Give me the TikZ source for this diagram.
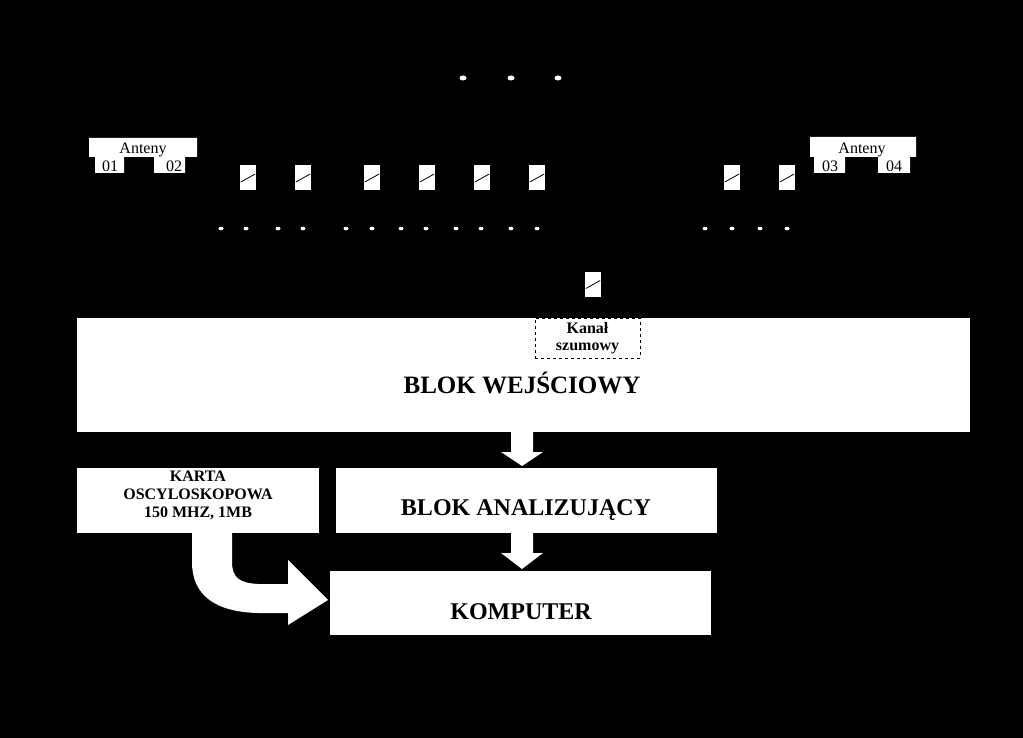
\documentclass[tikz,border=0pt]{standalone}
\usepackage{fontspec}
\setmainfont{Liberation Serif}
\begin{document}
\begin{tikzpicture}[x=1pt,y=-1pt,
  wbox/.style={fill=white,draw=none,inner sep=0pt,anchor=north west},
  res/.style={fill=white,minimum width=16pt,minimum height=25pt,inner sep=0pt},
  dotw/.style={fill=white,ellipse,minimum width=6pt,minimum height=4pt,inner sep=0pt},
  blk/.style={font=\bfseries\fontsize{25}{28}\selectfont},
  barrow/.style={fill=white}]
\fill[black] (0,0) rectangle (1023,738);
\useasboundingbox (0,0) rectangle (1023,738);
% top dots
\foreach \x [count=\i] in {463,511,558} \fill[white] (\x,78) ellipse (3.5 and 2.5);
% Antennas left
\fill[white] (89,138) rectangle (197,157) (95,157) rectangle (124,173) (154,157) rectangle (185,173);
\node (antL) at (143,150) {\fontsize{16}{18}\selectfont Anteny};
\node (a01) at (110,166) {\fontsize{16}{18}\selectfont 01};
\node (a02) at (174,166) {\fontsize{16}{18}\selectfont 02};
% Antennas right
\fill[white] (810,137) rectangle (916,157) (814,157) rectangle (845,173) (878,157) rectangle (910,173);
\node (antR) at (862,150) {\fontsize{16}{18}\selectfont Anteny};
\node (a03) at (830,166) {\fontsize{16}{18}\selectfont 03};
\node (a04) at (894,166) {\fontsize{16}{18}\selectfont 04};
% resistors
\foreach \x [count=\i] in {248,303,372,427,482,537,732,787}{
  \node[res] (r\i) at (\x,178) {};
  \draw[black,line width=0.8pt] ([xshift=1pt,yshift=-4pt]r\i.west) -- ([xshift=-1pt,yshift=4pt]r\i.east);
}
\node[res] (rn) at (593,284.5) {};
\draw[black,line width=0.8pt] ([xshift=1pt,yshift=-4pt]rn.west) -- ([xshift=-1pt,yshift=4pt]rn.east);
% dots row
\foreach \x in {221,246,278,303,346,372,401,426,456,481,511,537,705,732,760,787}
  \fill[white] (\x,228.5) ellipse (2.5 and 1.8);
% Blok wejsciowy
\fill[white] (77,318) rectangle (970,432);
\node[blk] (bw) at (522,383) {BLOK WEJŚCIOWY};
\node[draw=black,dashed,fill=white,minimum width=105pt,minimum height=40pt,inner sep=0pt,
  font=\bfseries\fontsize{16}{17}\selectfont,align=center] (ks) at (587.5,338) {Kanał\\szumowy};
% arrows down
\fill[white] (511,432) -- (533,432) -- (533,452) -- (543,452) -- (522,466) -- (501,452) -- (511,452) -- cycle;
\fill[white] (511,533) -- (533,533) -- (533,553) -- (543,553) -- (522,569) -- (501,553) -- (511,553) -- cycle;
% Karta
\fill[white] (77,468) rectangle (319,533);
\node[font=\bfseries\fontsize{16}{18}\selectfont,align=center] (karta) at (198,495) {KARTA\\OSCYLOSKOPOWA\\150 MHZ, 1MB};
% Blok analizujacy
\fill[white] (336,468) rectangle (717,533);
\node[font=\bfseries\fontsize{24}{28}\selectfont] (ba) at (526,510) {BLOK ANALIZUJĄCY};
% Komputer
\fill[white] (330,571) rectangle (711,635);
\node[font=\bfseries\fontsize{24}{28}\selectfont] (komp) at (521,612) {KOMPUTER};
% curved arrow
\fill[white] (192,533) -- (232,533) -- (232,562) .. controls (232,578) and (240,583) .. (258,584)
  -- (288,584) -- (288,560) -- (328,600) -- (288,625) -- (288,613) -- (258,613)
  .. controls (215,612) and (192,595) .. (192,562) -- cycle;
\end{tikzpicture}
\end{document}
